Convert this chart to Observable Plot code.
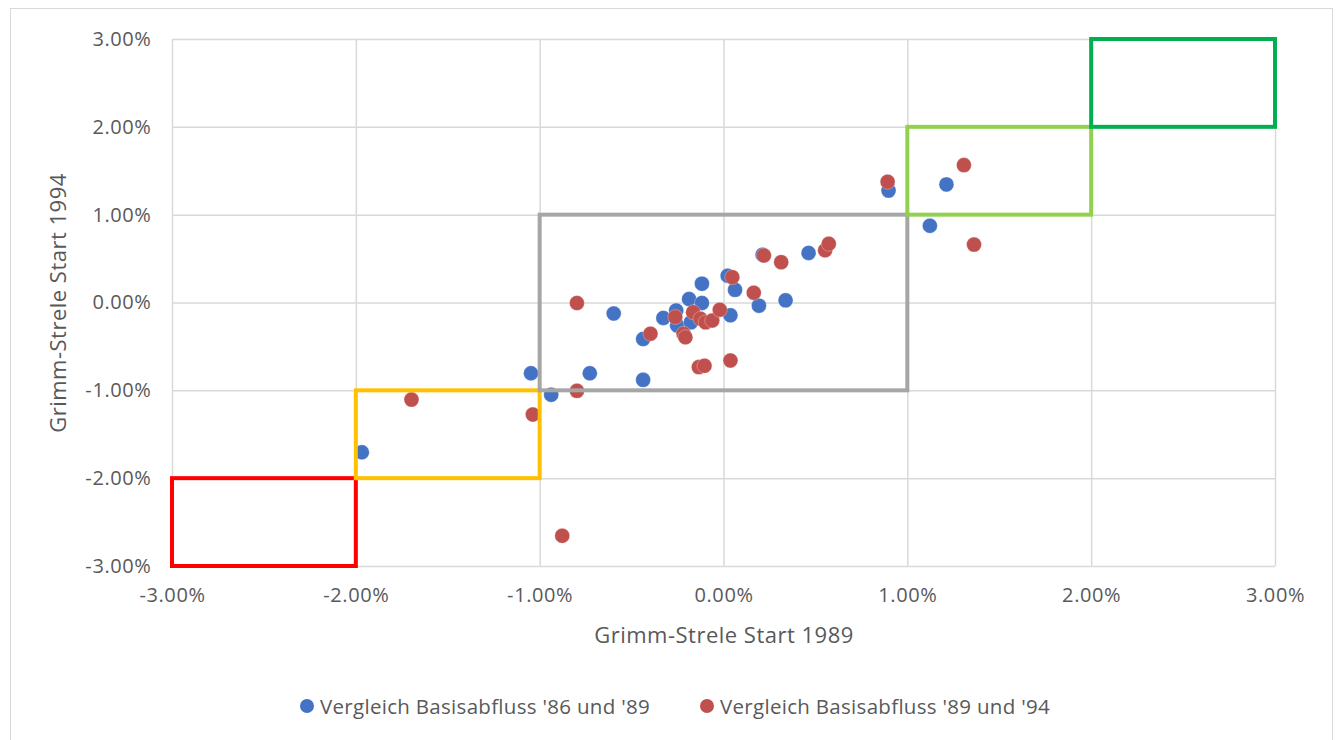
<!DOCTYPE html>
<html>
<head>
<meta charset="utf-8">
<script src="https://cdn.jsdelivr.net/npm/d3@7"></script>
<script src="https://cdn.jsdelivr.net/npm/@observablehq/plot@0.6"></script>
<style>
  html, body { margin: 0; padding: 0; background: #fff; }
  #wrap { position: relative; width: 1338px; height: 740px; overflow: hidden; font-family: "Open Sans", sans-serif; }
  #frame { position: absolute; left: 10px; top: 8px; width: 1323px; height: 760px; border: 1px solid #d9d9d9; box-sizing: border-box; }
  #chart { position: absolute; left: 0; top: 0; }
  #legend { position: absolute; top: 692px; left: 0; width: 1338px; display: flex; justify-content: center; gap: 50px; font-size: 20.5px; letter-spacing: 0.3px; color: #595959; padding-left: 12px; box-sizing: border-box; }
  .item { display: flex; align-items: center; gap: 6px; }
  .sw { width: 14px; height: 14px; border-radius: 50%; display: inline-block; }
</style>
</head>
<body>
<div id="wrap">
  <div id="frame"></div>
  <div id="chart"></div>
  <div id="legend"></div>
</div>
<script>
// Series names
const seriesNames = ["Vergleich Basisabfluss '86 und '89", "Vergleich Basisabfluss '89 und '94"];
const seriesColors = ["#4472C4", "#C0504D"];

// Series 1 (blue): x = Grimm-Strele Start 1989 (%), y = Grimm-Strele Start 1994 (%)
const blueX = [-1.97, -1.05, -0.94, -0.73, -0.60, -0.44, -0.44, -0.33, -0.26, -0.255, -0.19, -0.18, -0.12, -0.12, 0.02, 0.035, 0.06, 0.19, 0.21, 0.335, 0.46, 0.895, 1.12, 1.21];
const blueY = [-1.70, -0.80, -1.045, -0.80, -0.12, -0.875, -0.41, -0.17, -0.085, -0.255, 0.045, -0.22, 0.22, 0.0, 0.31, -0.14, 0.15, -0.03, 0.55, 0.03, 0.57, 1.28, 0.88, 1.35];

// Series 2 (red)
const redX = [-1.70, -1.04, -0.88, -0.80, -0.80, -0.40, -0.265, -0.22, -0.21, -0.168, -0.128, -0.10, -0.064, -0.023, -0.137, -0.106, 0.035, 0.045, 0.162, 0.217, 0.311, 0.55, 0.57, 0.89, 1.305, 1.36];
const redY = [-1.10, -1.27, -2.65, 0.0, -1.0, -0.35, -0.16, -0.35, -0.39, -0.105, -0.18, -0.22, -0.20, -0.077, -0.73, -0.715, -0.655, 0.294, 0.116, 0.54, 0.465, 0.60, 0.674, 1.38, 1.57, 0.665];

// Classification boxes (x1,x2,y1,y2 in %)
const boxX1 = [-3, -2, -1, 1, 2];
const boxX2 = [-2, -1, 1, 2, 3];
const boxY1 = [-3, -2, -1, 1, 2];
const boxY2 = [-2, -1, 1, 2, 3];
const boxColors = ["#FF0000", "#FFC000", "#A6A6A6", "#92D050", "#00B050"];

// Tick values
const ticks = [-3, -2, -1, 0, 1, 2, 3];

const points = [
  ...blueX.map((x, i) => ({x, y: blueY[i], s: seriesNames[0]})),
  ...redX.map((x, i) => ({x, y: redY[i], s: seriesNames[1]}))
];
const boxes = boxX1.map((x1, i) => ({x1, x2: boxX2[i], y1: boxY1[i], y2: boxY2[i], c: boxColors[i]}));

const fmt = d => d.toFixed(2) + "%";

const chart = Plot.plot({
  width: 1338,
  height: 660,
  marginLeft: 172,
  marginRight: 63,
  marginTop: 39,
  marginBottom: 94,
  style: { fontFamily: "'Open Sans', sans-serif", fontSize: "20px", color: "#595959", background: "transparent" },
  x: { domain: [-3, 3] },
  y: { domain: [-3, 3] },
  color: { domain: seriesNames, range: seriesColors },
  marks: [
    Plot.gridX(ticks, { stroke: "#d9d9d9", strokeOpacity: 1, strokeWidth: 1.5 }),
    Plot.gridY(ticks, { stroke: "#d9d9d9", strokeOpacity: 1, strokeWidth: 1.5 }),
    Plot.axisX(ticks, { tickSize: 0, tickPadding: 21, tickFormat: fmt, fontSize: 20, fill: "#595959",
      label: "Grimm-Strele Start 1989", labelAnchor: "center", labelArrow: "none", labelOffset: 76 }),
    Plot.axisY(ticks, { tickSize: 0, tickPadding: 21, tickFormat: fmt, fontSize: 20, fill: "#595959",
      label: "Grimm-Strele Start 1994", labelAnchor: "center", labelArrow: "none", labelOffset: 122 }),
    Plot.dot(points, { x: "x", y: "y", fill: "s", r: 7.5, stroke: "white", strokeWidth: 0.5, strokeOpacity: 0.6 }),
    Plot.rect(boxes, { x1: "x1", x2: "x2", y1: "y1", y2: "y2", fill: "none", stroke: "c", strokeWidth: 4 })
  ]
});
// tick label spacing and larger axis titles
d3.select(chart).selectAll('g[aria-label="x-axis tick label"] text, g[aria-label="y-axis tick label"] text')
  .style("letter-spacing", "0.6px");
d3.select(chart).selectAll('g[aria-label="x-axis label"] text, g[aria-label="y-axis label"] text')
  .style("font-size", "22px").style("letter-spacing", "0.5px");
document.getElementById("chart").appendChild(chart);

const legend = document.getElementById("legend");
seriesNames.forEach((n, i) => {
  const it = document.createElement("div");
  it.className = "item";
  const sw = document.createElement("span");
  sw.className = "sw";
  sw.style.background = seriesColors[i];
  const t = document.createElement("span");
  t.textContent = n;
  it.appendChild(sw); it.appendChild(t);
  legend.appendChild(it);
});
</script>
</body>
</html>
